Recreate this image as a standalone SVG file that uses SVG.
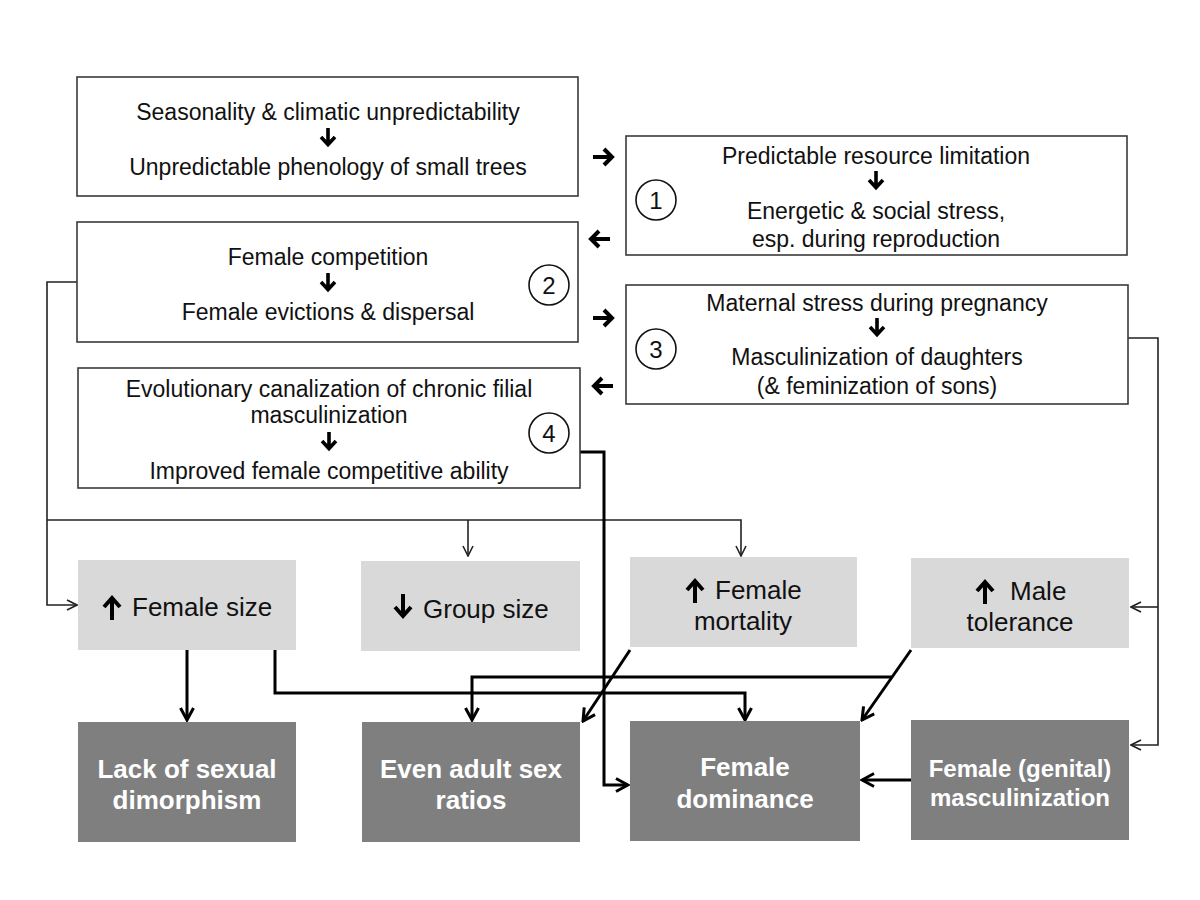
<svg xmlns="http://www.w3.org/2000/svg" width="1200" height="900" viewBox="0 0 1200 900">
<defs>
<style>
.box{fill:#fff;stroke:#3a3a3a;stroke-width:1.6}
.lt{fill:#d9d9d9}
.dk{fill:#7f7f7f}
.t{font-family:"Liberation Sans",Arial,sans-serif;font-size:23px;fill:#111;text-anchor:middle}
.tl{font-family:"Liberation Sans",Arial,sans-serif;font-size:26px;fill:#111}
.tlc{font-family:"Liberation Sans",Arial,sans-serif;font-size:26px;fill:#111;text-anchor:middle}
.td{font-family:"Liberation Sans",Arial,sans-serif;font-size:26px;font-weight:bold;fill:#fff;text-anchor:middle}
.num{font-family:"Liberation Sans",Arial,sans-serif;font-size:24px;fill:#111;text-anchor:middle}
.circ{fill:#fff;stroke:#111;stroke-width:1.6}
.sa{fill:none;stroke:#000;stroke-width:3.6;stroke-linecap:butt}
.thin{fill:none;stroke:#222;stroke-width:1.6}
.thick{fill:none;stroke:#000;stroke-width:3}
</style>
<marker id="mThin" markerUnits="userSpaceOnUse" viewBox="0 0 12 12" markerWidth="12" markerHeight="12" refX="11" refY="6" orient="auto">
<path d="M1,1 L11,6 L1,11" fill="none" stroke="#222" stroke-width="1.6"/>
</marker>
<marker id="mThick" markerUnits="userSpaceOnUse" viewBox="0 0 16 16" markerWidth="16" markerHeight="16" refX="14" refY="8" orient="auto">
<path d="M2,1.5 L14,8 L2,14.5" fill="none" stroke="#000" stroke-width="3"/>
</marker>
<g id="dn"><path d="M0,-9 V7 M-7,0 L0,7.5 L7,0" class="sa"/></g>
<g id="bigUp"><path d="M0,12 V-10 M-8,-1 L0,-10 L8,-1" class="sa" style="stroke-width:4"/></g>
<g id="bigDn"><path d="M0,-12 V10 M-8,1 L0,10 L8,1" class="sa" style="stroke-width:4"/></g>
<g id="rt"><path d="M-10,0 H9 M1,-8 L9,0 L1,8" class="sa" style="stroke-width:4"/></g>
<g id="lf"><path d="M10,0 H-9 M-1,-8 L-9,0 L-1,8" class="sa" style="stroke-width:4"/></g>
</defs>
<rect width="1200" height="900" fill="#fff"/>

<g id="connectors">
<path class="thin" d="M77,282 H47 V605 H77" marker-end="url(#mThin)"/>
<path class="thin" d="M47,520 H741 V556" marker-end="url(#mThin)"/>
<path class="thin" d="M468,520 V556" marker-end="url(#mThin)"/>
<path class="thin" d="M1128,338 H1158 V745 H1131" marker-end="url(#mThin)"/>
<path class="thin" d="M1158,607 H1131" marker-end="url(#mThin)"/>
<path class="thick" d="M580,452 H604 V785 H628" marker-end="url(#mThick)"/>
<path class="thick" d="M187,650 V720" marker-end="url(#mThick)"/>
<path class="thick" d="M275,650 V693 H745 V720" marker-end="url(#mThick)"/>
<path class="thick" d="M911,650 L862,720" marker-end="url(#mThick)"/>
<path class="thick" d="M892,677 H472 V720" marker-end="url(#mThick)"/>
<path class="thick" d="M630,650 L583,721" marker-end="url(#mThick)"/>
<path class="thick" d="M911,780 H862" marker-end="url(#mThick)"/>
<use href="#rt" x="603" y="157"/>
<use href="#lf" x="600" y="239"/>
<use href="#rt" x="603" y="318"/>
<use href="#lf" x="603" y="386"/>
</g>

<g id="boxA">
<rect class="box" x="77" y="77" width="501" height="119"/>
<text class="t" x="328" y="120">Seasonality &amp; climatic unpredictability</text>
<use href="#dn" x="328" y="137"/>
<text class="t" x="328" y="175">Unpredictable phenology of small trees</text>
</g>

<g id="box1">
<rect class="box" x="626" y="136" width="501" height="119"/>
<text class="t" x="876" y="164">Predictable resource limitation</text>
<use href="#dn" x="876" y="180"/>
<text class="t" x="876" y="219">Energetic &amp; social stress,</text>
<text class="t" x="876" y="247">esp. during reproduction</text>
<circle class="circ" cx="656" cy="200" r="20"/>
<text class="num" x="656" y="209">1</text>
</g>

<g id="box2">
<rect class="box" x="77" y="222" width="501" height="120"/>
<text class="t" x="328" y="265">Female competition</text>
<use href="#dn" x="328" y="282"/>
<text class="t" x="328" y="320">Female evictions &amp; dispersal</text>
<circle class="circ" cx="549" cy="285" r="20"/>
<text class="num" x="549" y="294">2</text>
</g>

<g id="box3">
<rect class="box" x="626" y="285" width="502" height="119"/>
<text class="t" x="877" y="311">Maternal stress during pregnancy</text>
<use href="#dn" x="877" y="327"/>
<text class="t" x="877" y="365">Masculinization of daughters</text>
<text class="t" x="877" y="394">(&amp; feminization of sons)</text>
<circle class="circ" cx="656" cy="349" r="20"/>
<text class="num" x="656" y="358">3</text>
</g>

<g id="box4">
<rect class="box" x="78" y="368" width="502" height="120"/>
<text class="t" x="329" y="397">Evolutionary canalization of chronic filial</text>
<text class="t" x="329" y="423">masculinization</text>
<use href="#dn" x="329" y="441"/>
<text class="t" x="329" y="479">Improved female competitive ability</text>
<circle class="circ" cx="549" cy="433" r="20"/>
<text class="num" x="549" y="442">4</text>
</g>

<g id="femaleSize">
<rect class="lt" x="78" y="560" width="218" height="90"/>
<use href="#bigUp" x="112" y="608"/>
<text class="tl" x="132" y="616">Female size</text>
</g>

<g id="groupSize">
<rect class="lt" x="361" y="561" width="219" height="90"/>
<use href="#bigDn" x="403" y="606"/>
<text class="tl" x="423" y="618">Group size</text>
</g>

<g id="femaleMortality">
<rect class="lt" x="630" y="557" width="227" height="90"/>
<use href="#bigUp" x="695" y="591"/>
<text class="tl" x="715" y="599">Female</text>
<text class="tlc" x="743" y="630">mortality</text>
</g>

<g id="maleTolerance">
<rect class="lt" x="911" y="558" width="218" height="90"/>
<use href="#bigUp" x="985" y="592"/>
<text class="tl" x="1010" y="600">Male</text>
<text class="tlc" x="1020" y="631">tolerance</text>
</g>

<g id="lackDimorphism">
<rect class="dk" x="78" y="722" width="218" height="120"/>
<text class="td" x="187" y="778">Lack of sexual</text>
<text class="td" x="187" y="809">dimorphism</text>
</g>

<g id="evenSexRatios">
<rect class="dk" x="362" y="722" width="218" height="120"/>
<text class="td" x="471" y="778">Even adult sex</text>
<text class="td" x="471" y="809">ratios</text>
</g>

<g id="femaleDominance">
<rect class="dk" x="630" y="721" width="230" height="120"/>
<text class="td" x="745" y="776">Female</text>
<text class="td" x="745" y="808">dominance</text>
</g>

<g id="genitalMasc">
<rect class="dk" x="911" y="720" width="218" height="120"/>
<text class="td" x="1020" y="777" style="font-size:24px">Female (genital)</text>
<text class="td" x="1020" y="806" style="font-size:24px">masculinization</text>
</g>
</svg>
